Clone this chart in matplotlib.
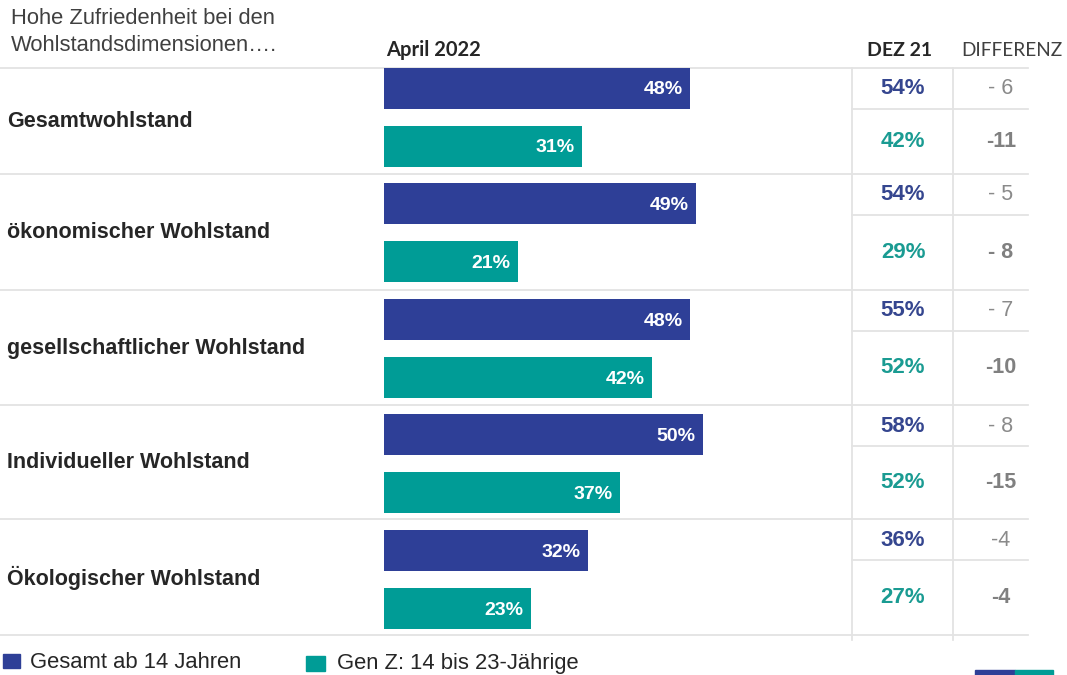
import matplotlib.pyplot as plt
from matplotlib.patches import Rectangle

# Data
categories = ['Gesamtwohlstand', 'ökonomischer Wohlstand', 'gesellschaftlicher Wohlstand',
              'Individueller Wohlstand', 'Ökologischer Wohlstand']
april_gesamt = [48, 49, 48, 50, 32]
april_genz = [31, 21, 42, 37, 23]
dez_gesamt = [54, 54, 55, 58, 36]
dez_genz = [42, 29, 52, 52, 27]
diff_gesamt = ['- 6', '- 5', '- 7', '- 8', '-4']
diff_genz = ['-11', '- 8', '-10', '-15', '-4']
series_names = ['Gesamt ab 14 Jahren', 'Gen Z: 14 bis 23-Jährige']

BLUE = '#2E3F97'
TEAL = '#009C96'
BLUE_TXT = '#35468F'
TEAL_TXT = '#1A9B92'
GRID = '#E3E3E3'

W, H = 1067, 675
fig = plt.figure(figsize=(W / 100, H / 100), dpi=100)

# background axes in pixel coordinates for table, labels, lines
bg = fig.add_axes([0, 0, 1, 1])
bg.set_xlim(0, W)
bg.set_ylim(H, 0)
bg.axis('off')

# layout (pixels)
SEPS = [67.5, 174, 289.5, 405, 519, 634.5]   # row separators
BLUE_C0 = 88          # centre of first blue bar
GROUP_H = 115.6
SUB_OFF = 58          # teal bar centre below blue
BAR_H = 41
X0, X1 = 384, 852
PX_PER_PCT = 6.375

# bar axes: x in percent, y in group units
ax = fig.add_axes([X0 / W, 1 - SEPS[-1] / H, (X1 - X0) / W, (SEPS[-1] - SEPS[0]) / H])
ax.set_xlim(0, (X1 - X0) / PX_PER_PCT)
top = (SEPS[0] - BLUE_C0) / GROUP_H
ax.set_ylim(top + (SEPS[-1] - SEPS[0]) / GROUP_H, top)
ax.axis('off')
ax.patch.set_alpha(0)

n = len(categories)
y_blue = [i for i in range(n)]
y_teal = [i + SUB_OFF / GROUP_H for i in range(n)]
ax.barh(y_blue, april_gesamt, height=BAR_H / GROUP_H, color=BLUE)
ax.barh(y_teal, april_genz, height=BAR_H / GROUP_H, color=TEAL)
dy = 2 / GROUP_H
for yb, yt, vb, vt in zip(y_blue, y_teal, april_gesamt, april_genz):
    ax.text(vb - 1.15, yb + dy, f'{vb}%', color='white', fontsize=14,
            fontweight='bold', family='Liberation Sans', ha='right', va='center')
    ax.text(vt - 1.15, yt + dy, f'{vt}%', color='white', fontsize=14,
            fontweight='bold', family='Liberation Sans', ha='right', va='center')

# horizontal separators
for y in SEPS:
    bg.plot([0, 1028], [y, y], color=GRID, lw=1.3, zorder=0)
for y in SEPS[:-1]:
    bg.plot([X1, 1028], [y + 41, y + 41], color=GRID, lw=1.3, zorder=0)
# vertical separators
for x in (X1, 953):
    bg.plot([x, x], [SEPS[0], 640], color=GRID, lw=1.3, zorder=0)

# category labels and table values
for i, cat in enumerate(categories):
    s0, s1 = SEPS[i], SEPS[i + 1]
    bg.text(7, (s0 + s1) / 2 + 1, cat, fontsize=15.5, fontweight='bold', color='#262626',
            family='Liberation Sans', ha='left', va='center')
    yb = s0 + 21
    yt = (s0 + 41 + s1) / 2
    bg.text(903, yb, f'{dez_gesamt[i]}%', fontsize=16, fontweight='bold',
            color=BLUE_TXT, family='Liberation Sans', ha='center', va='center')
    bg.text(903, yt, f'{dez_genz[i]}%', fontsize=16, fontweight='bold',
            color=TEAL_TXT, family='Liberation Sans', ha='center', va='center')
    bg.text(1001, yb, diff_gesamt[i], fontsize=15.5, color='#8A8A8A',
            family='Liberation Sans', ha='center', va='center')
    bg.text(1001, yt, diff_genz[i], fontsize=15.5, fontweight='bold', color='#808080',
            family='Liberation Sans', ha='center', va='center')

# headers
bg.text(11, 24, 'Hohe Zufriedenheit bei den', fontsize=15.8,
        color='#404040', family='Liberation Sans', ha='left', va='baseline')
bg.text(11, 51, 'Wohlstandsdimensionen….', fontsize=15.8,
        color='#404040', family='Liberation Sans', ha='left', va='baseline')
bg.text(386, 56, 'April 2022', fontsize=14.5, fontweight='bold', color='#262626',
        family='Lato', ha='left', va='baseline')
bg.text(900, 56, 'DEZ 21', fontsize=14, fontweight='bold', color='#262626',
        family='Lato', ha='center', va='baseline')
bg.text(1012, 56, 'DIFFERENZ', fontsize=13.7, color='#404040',
        family='Lato', ha='center', va='baseline')

# legend
bg.add_patch(Rectangle((3, 654), 17, 14, color=BLUE))
bg.text(30, 662, series_names[0], fontsize=15.8, color='#262626',
        family='Liberation Sans', ha='left', va='center')
bg.add_patch(Rectangle((306, 656), 19, 15, color=TEAL))
bg.text(337, 663, series_names[1], fontsize=15.8, color='#262626',
        family='Liberation Sans', ha='left', va='center')

# small logo fragment bottom right
bg.add_patch(Rectangle((975, 670), 40, 6, color=BLUE))
bg.add_patch(Rectangle((1015, 670), 38, 6, color=TEAL))

fig.savefig('out.png', dpi=100)
